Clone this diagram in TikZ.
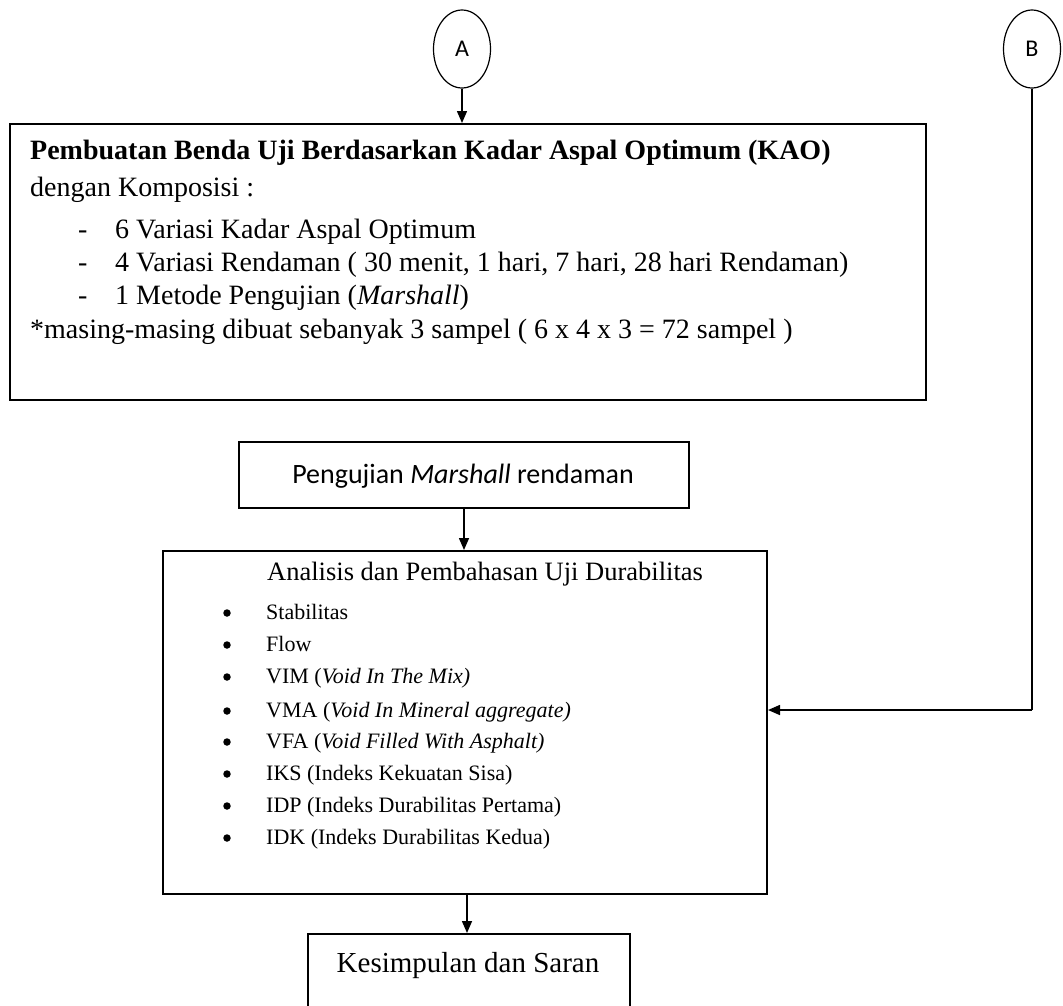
\documentclass[tikz,border=0pt]{standalone}
\usepackage{fontspec}
\setmainfont{Liberation Serif}
\newfontfamily\calib{Carlito}
\usetikzlibrary{shapes.geometric,arrows.meta}
\begin{document}
\begin{tikzpicture}[x=1pt,y=-1pt,
  boxst/.style={draw,line width=2pt,inner sep=0pt,anchor=north west},
  ell/.style={draw,ellipse,line width=1.2pt,minimum width=57pt,minimum height=78pt,inner sep=0pt,font=\calib\fontsize{24}{28}\selectfont},
  arr/.style={line width=1.5pt,-{Triangle[length=12pt,width=10pt]}},
  link/.style={line width=1.5pt},
  tbig/.style={anchor=base west,inner sep=0pt,font=\fontsize{28}{33}\selectfont},
  tlist/.style={anchor=base west,inner sep=0pt,font=\fontsize{22}{26}\selectfont},
  dot/.style={circle,fill,inner sep=0pt,minimum size=7.5pt}
]
\useasboundingbox (0,0) rectangle (1063,1005);
\clip (0,0) rectangle (1063,1005);
\fill[white] (0,0) rectangle (1063,1005);

% connectors circles
\node[ell] (A) at (462,49) {A};
\node[ell] (B) at (1032,49) {B};

% box 1
\node[boxst,minimum width=916pt,minimum height=276pt] (box1) at (9,123) {};
\node[tbig,font=\bfseries\fontsize{28}{33}\selectfont] (t1) at (30,159) {Pembuatan Benda Uji Berdasarkan Kadar Aspal Optimum (KAO)};
\node[tbig] (t2) at (30,196) {dengan Komposisi :};
\node[tbig] (d1) at (78,238) {-};
\node[tbig] (l1) at (115,238) {6 Variasi Kadar Aspal Optimum};
\node[tbig] (d2) at (78,271) {-};
\node[tbig] (l2) at (115,271) {4 Variasi Rendaman ( 30 menit, 1 hari, 7 hari, 28 hari Rendaman)};
\node[tbig] (d3) at (78,304) {-};
\node[tbig] (l3) at (115,304) {1 Metode Pengujian (\textit{Marshall})};
\node[tbig] (t3) at (30,338) {*masing-masing dibuat sebanyak 3 sampel ( 6 x 4 x 3 = 72 sampel )};

% box 2
\node[boxst,minimum width=450pt,minimum height=66pt] (box2) at (238,441) {};
\node[anchor=base,inner sep=0pt,font=\calib\fontsize{28}{33}\selectfont] (t4) at (463,483) {Pengujian \textit{Marshall} rendaman};

% box 3
\node[boxst,minimum width=604pt,minimum height=343pt] (box3) at (162,550) {};
\node[anchor=base west,inner sep=0pt,font=\fontsize{26.5}{30}\selectfont] (t5) at (267,580) {Analisis dan Pembahasan Uji Durabilitas};
\foreach \yy/\txt [count=\i] in {619/Stabilitas,651/Flow,683/{VIM (\textit{Void In The Mix)}},717/{VMA (\textit{Void In Mineral aggregate)}},748/{VFA (\textit{Void Filled With Asphalt)}},780/{IKS (Indeks Kekuatan Sisa)},812/{IDP (Indeks Durabilitas Pertama)},844/{IDK (Indeks Durabilitas Kedua)}}{
  \node[dot] (bu\i) at (227,\yy-6) {};
  \node[tlist] (it\i) at (266,\yy) {\txt};
}

% box 4
\node[boxst,minimum width=322pt,minimum height=120pt] (box4) at (307,933) {};
\node[anchor=base,inner sep=0pt,font=\fontsize{29}{34}\selectfont] (t6) at (468,972) {Kesimpulan dan Saran};

% arrows
\draw[arr] (A.south) -- (A.south |- box1.north);
\draw[arr] (box2.south -| 464,0) -- (box3.north -| 464,0);
\draw[arr] (box3.south -| 467,0) -- (box4.north -| 467,0);
\coordinate (bj) at (1032,710);
\draw[link] (B.south) -- (bj);
\draw[arr] (bj) -- (bj -| box3.east);
\end{tikzpicture}
\end{document}
